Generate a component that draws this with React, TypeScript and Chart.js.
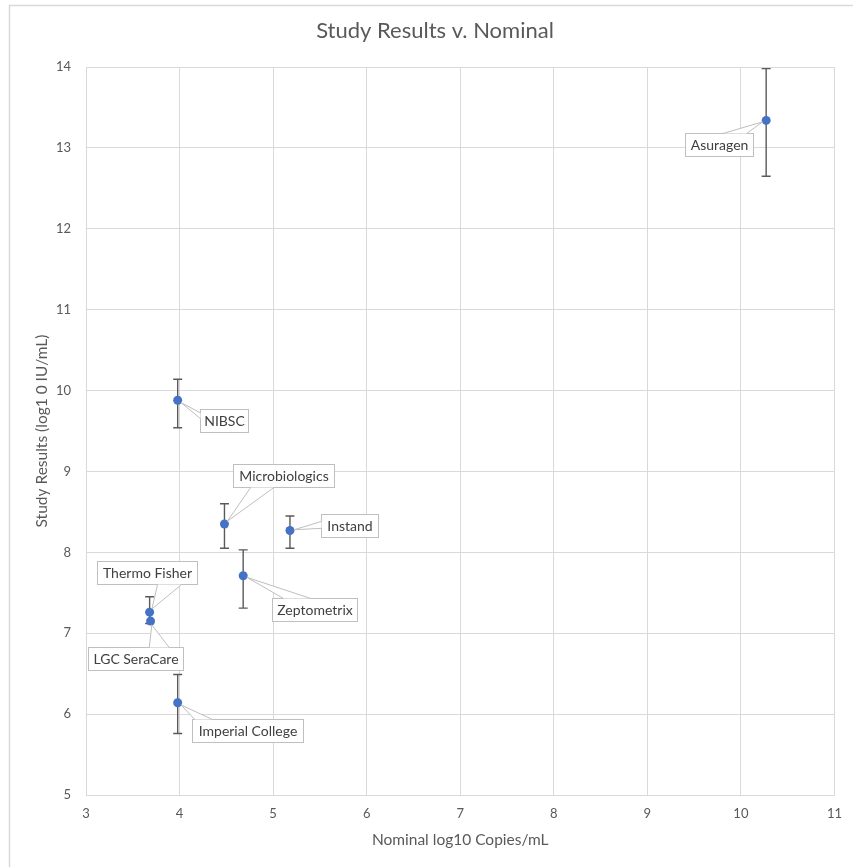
import React, { useEffect, useRef } from "react";
import { Chart, registerables } from "chart.js";

Chart.register(...registerables);

// ---- data ----
const names = [
  "Asuragen",
  "NIBSC",
  "Microbiologics",
  "Instand",
  "Zeptometrix",
  "Thermo Fisher",
  "LGC SeraCare",
  "Imperial College",
];
const nominalLog10 = [10.27, 3.98, 4.48, 5.18, 4.68, 3.68, 3.69, 3.98];
const studyResults = [13.34, 9.88, 8.35, 8.27, 7.71, 7.26, 7.15, 6.14];
const errorLow = [12.65, 9.54, 8.05, 8.05, 7.31, 7.12, 7.15, 5.76];
const errorHigh = [13.98, 10.14, 8.6, 8.45, 8.03, 7.45, 7.15, 6.49];
const xTickValues = [3, 4, 5, 6, 7, 8, 9, 10, 11];
const yTickValues = [5, 6, 7, 8, 9, 10, 11, 12, 13, 14];

const chartTitle = "Study Results v. Nominal";
const xTitle = "Nominal log10 Copies/mL";
const yTitle = "Study Results (log1 0 IU/mL)";

// ---- callout layout (pixel offsets of box centre from point, box width, wedge edge) ----
const calloutLayout = [
  { dx: -47, dy: 24.5, w: 68, edge: "top", a: 0.55, b: 0.9 },
  { dx: 46, dy: 20, w: 48, edge: "left", a: 0.15, b: 0.4 },
  { dx: 59.5, dy: -48.5, w: 101, edge: "bottom", a: 0.17, b: 0.4 },
  { dx: 59.5, dy: -5, w: 57, edge: "left", a: 0.3, b: 0.6 },
  { dx: 71.5, dy: 33.5, w: 85, edge: "top", a: 0.13, b: 0.45 },
  { dx: -3, dy: -39.5, w: 100, edge: "bottom", a: 0.6, b: 0.84 },
  { dx: -15.5, dy: 37, w: 95, edge: "top", a: 0.64, b: 0.85 },
  { dx: 69.5, dy: 27.5, w: 111, edge: "top", a: 0.02, b: 0.18 },
];

const FONT = "Lato, 'Open Sans', sans-serif";
const TEXT = "#595959";
const GRID = "#d9d9d9";
const BLUE = "#4472c4";

export default function App() {
  const ref = useRef<HTMLCanvasElement>(null);

  useEffect(() => {
    const canvas = ref.current;
    if (!canvas) return;

    const framePlugin = {
      id: "frame",
      beforeDraw(chart: any) {
        const ctx = chart.ctx;
        ctx.save();
        ctx.fillStyle = "#ffffff";
        ctx.fillRect(0, 0, chart.width, chart.height);
        ctx.strokeStyle = "#d9d9d9";
        ctx.lineWidth = 1.5;
        ctx.beginPath();
        ctx.moveTo(9.5, chart.height);
        ctx.lineTo(9.5, 5.5);
        ctx.lineTo(chart.width, 5.5);
        ctx.stroke();
        ctx.fillStyle = TEXT;
        ctx.font = `22px ${FONT}`;
        ctx.textAlign = "center";
        ctx.textBaseline = "middle";
        ctx.fillText(chartTitle, 435, 31);
        ctx.restore();
      },
    };

    const errorBarPlugin = {
      id: "errorBars",
      beforeDatasetsDraw(chart: any) {
        const ctx = chart.ctx;
        const xs = chart.scales.x;
        const ys = chart.scales.y;
        ctx.save();
        ctx.strokeStyle = "#5a5a5a";
        ctx.lineWidth = 1.4;
        for (let i = 0; i < nominalLog10.length; i++) {
          if (errorLow[i] === errorHigh[i]) continue;
          const x = xs.getPixelForValue(nominalLog10[i]);
          const y1 = ys.getPixelForValue(errorLow[i]);
          const y2 = ys.getPixelForValue(errorHigh[i]);
          ctx.beginPath();
          ctx.moveTo(x, y1);
          ctx.lineTo(x, y2);
          ctx.moveTo(x - 4.5, y1);
          ctx.lineTo(x + 4.5, y1);
          ctx.moveTo(x - 4.5, y2);
          ctx.lineTo(x + 4.5, y2);
          ctx.stroke();
        }
        ctx.restore();
      },
    };

    const calloutPlugin = {
      id: "callouts",
      afterDatasetsDraw(chart: any) {
        const ctx = chart.ctx;
        const xs = chart.scales.x;
        const ys = chart.scales.y;
        const h = 23;
        ctx.save();
        ctx.font = `14px ${FONT}`;
        for (let i = 0; i < names.length; i++) {
          const L = calloutLayout[i];
          const px = xs.getPixelForValue(nominalLog10[i]);
          const py = ys.getPixelForValue(studyResults[i]);
          const cx = px + L.dx;
          const cy = py + L.dy;
          const left = Math.round(cx - L.w / 2) + 0.5;
          const top = Math.round(cy - h / 2) + 0.5;
          const right = left + L.w;
          const bottom = top + h;
          ctx.fillStyle = "#ffffff";
          ctx.strokeStyle = "#bfbfbf";
          ctx.lineWidth = 1;
          ctx.fillRect(left, top, L.w, h);
          ctx.strokeRect(left, top, L.w, h);
          let b1x, b1y, b2x, b2y;
          if (L.edge === "top" || L.edge === "bottom") {
            const ey = L.edge === "top" ? top : bottom;
            b1x = left + L.a * L.w;
            b2x = left + L.b * L.w;
            b1y = ey;
            b2y = ey;
          } else {
            const ex = L.edge === "left" ? left : right;
            b1y = top + L.a * h;
            b2y = top + L.b * h;
            b1x = ex;
            b2x = ex;
          }
          const ang = Math.atan2((b1y + b2y) / 2 - py, (b1x + b2x) / 2 - px);
          const sx = px + Math.cos(ang) * 4;
          const sy = py + Math.sin(ang) * 4;
          ctx.beginPath();
          ctx.moveTo(b1x, b1y);
          ctx.lineTo(sx, sy);
          ctx.lineTo(b2x, b2y);
          ctx.closePath();
          ctx.fillStyle = "#ffffff";
          ctx.fill();
          ctx.beginPath();
          ctx.moveTo(b1x, b1y);
          ctx.lineTo(sx, sy);
          ctx.lineTo(b2x, b2y);
          ctx.strokeStyle = "#bfbfbf";
          ctx.stroke();
          ctx.fillStyle = "#404040";
          ctx.textAlign = "center";
          ctx.textBaseline = "middle";
          ctx.fillText(names[i], left + L.w / 2, top + h / 2 + 0.5);
        }
        ctx.restore();
      },
    };

    const chart = new Chart(canvas, {
      type: "scatter",
      data: {
        datasets: [
          {
            label: "Study Results",
            data: nominalLog10.map((x, i) => ({ x, y: studyResults[i] })),
            backgroundColor: BLUE,
            borderColor: BLUE,
            pointRadius: 4.5,
            pointHoverRadius: 4.5,
            borderWidth: 0,
          },
        ],
      },
      options: {
        responsive: false,
        animation: false,
        layout: { padding: { left: 0, right: 13, top: 67, bottom: 0 } },
        plugins: {
          legend: { display: false },
          title: { display: false },
          tooltip: { enabled: false },
        },
        scales: {
          x: {
            type: "linear",
            min: 3,
            max: 11,
            afterBuildTicks(scale: any) {
              scale.ticks = xTickValues.map((v) => ({ value: v }));
            },
            afterFit(scale: any) {
              scale.height = 72;
            },
            ticks: {
              color: TEXT,
              font: { family: FONT, size: 13 },
              padding: 11,
            },
            grid: { color: GRID, lineWidth: 1, drawTicks: false },
            border: { color: GRID, width: 1 },
            title: {
              display: true,
              text: xTitle,
              color: TEXT,
              font: { family: FONT, size: 15.5 },
              padding: { top: 0, bottom: 17.5 },
            },
          },
          y: {
            type: "linear",
            min: 5,
            max: 14,
            afterBuildTicks(scale: any) {
              scale.ticks = yTickValues.map((v) => ({ value: v }));
            },
            afterFit(scale: any) {
              scale.width = 86;
            },
            ticks: {
              color: TEXT,
              font: { family: FONT, size: 13 },
              padding: 15,
            },
            grid: { color: GRID, lineWidth: 1, drawTicks: false },
            border: { color: GRID, width: 1 },
            title: {
              display: true,
              text: yTitle,
              color: TEXT,
              font: { family: FONT, size: 15.5 },
              padding: { top: 32.5, bottom: 0 },
            },
          },
        },
      },
      plugins: [framePlugin, errorBarPlugin, calloutPlugin],
    } as any);

    return () => chart.destroy();
  }, []);

  return (
    <div style={{ position: "absolute", left: 0, top: 0, width: 853, height: 867 }}>
      <canvas ref={ref} width={853} height={867} />
    </div>
  );
}
